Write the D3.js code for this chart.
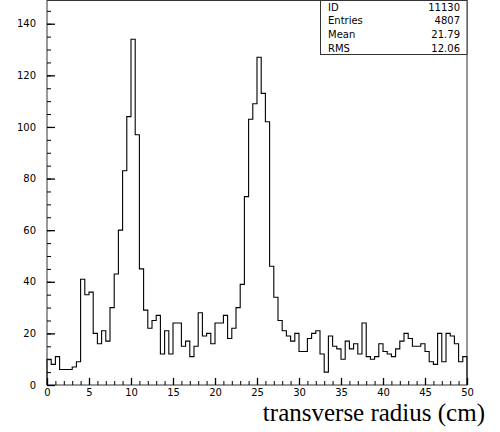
<!DOCTYPE html>
<html>
<head>
<meta charset="utf-8">
<script src="https://cdn.jsdelivr.net/npm/d3@7"></script>
<style>
  body { margin: 0; background: #fff; }
  svg { display: block; }
  .tick text { font-family: "DejaVu Sans", sans-serif; font-size: 10px; fill: #000; }
  .stats text { font-family: "DejaVu Sans", sans-serif; font-size: 10px; fill: #000; }
</style>
</head>
<body>
<div id="chart"></div>
<script>
// histogram: 100 bins of 0.5 cm from 0 to 50
const binStart = 0;
const binWidth = 0.5;
const counts = [
  10, 8, 11, 6, 6, 6, 7, 9, 41, 35,
  36, 20, 16, 21, 17, 30, 43, 60, 83, 104,
  134, 97, 45, 29, 22, 25, 27, 12, 21, 12,
  24, 24, 15, 17, 11, 15, 28, 19, 20, 16,
  24, 24, 27, 18, 22, 30, 39, 73, 103, 109,
  127, 113, 102, 46, 34, 25, 21, 19, 17, 20,
  13, 13, 18, 20, 21, 12, 5, 19, 15, 14,
  10, 17, 14, 16, 12, 24, 11, 10, 11, 16,
  13, 12, 11, 14, 17, 20, 18, 15, 15, 16,
  13, 9, 8, 20, 9, 20, 19, 16, 9, 11
];
const xTicks = [0, 5, 10, 15, 20, 25, 30, 35, 40, 45, 50];
const yTicks = [0, 20, 40, 60, 80, 100, 120, 140];
const statLabels = ["ID", "Entries", "Mean", "RMS"];
const statValues = ["11130", "4807", "21.79", "12.06"];
const xTitle = "transverse radius (cm)";

const width = 500, height = 432;
const mLeft = 47, mRight = 467, mTop = 0.5, mBottom = 385;

const svg = d3.select("#chart").append("svg")
  .attr("width", width)
  .attr("height", height);

const x = d3.scaleLinear().domain([0, 50]).range([mLeft, mRight]);
const y = d3.scaleLinear().domain([0, 149]).range([mBottom, mTop]);

// step outline of the histogram
const pts = [[binStart, 0]];
counts.forEach((c, i) => {
  const x0 = binStart + i * binWidth;
  pts.push([x0, c], [x0 + binWidth, c]);
});
pts.push([binStart + counts.length * binWidth, 0]);

svg.append("path")
  .attr("d", d3.line().x(d => x(d[0])).y(d => y(d[1]))(pts))
  .attr("fill", "none")
  .attr("stroke", "#000")
  .attr("stroke-width", 1.1);

// frame
svg.append("rect")
  .attr("x", mLeft).attr("y", mTop)
  .attr("width", mRight - mLeft).attr("height", mBottom - mTop)
  .attr("fill", "none").attr("stroke", "#333").attr("stroke-width", 1);

// y axis, ticks inside the frame
const yMinor = d3.range(0, 150, 5);
svg.append("g")
  .attr("transform", `translate(${mLeft},0)`)
  .call(d3.axisLeft(y).tickValues(yMinor).tickSize(-4).tickFormat(""))
  .call(g => g.select(".domain").remove());
svg.append("g")
  .attr("transform", `translate(${mLeft},0)`)
  .call(d3.axisLeft(y).tickValues(yTicks).tickSize(-8).tickPadding(11))
  .call(g => g.select(".domain").remove())
  .call(g => g.selectAll("line").attr("stroke-width", 1.3));

// x axis, ticks pointing up
const xMinor = d3.range(0, 51, 1);
svg.append("g")
  .attr("transform", `translate(0,${mBottom})`)
  .call(d3.axisBottom(x).tickValues(xMinor).tickSize(-4).tickFormat(""))
  .call(g => g.select(".domain").remove());
svg.append("g")
  .attr("transform", `translate(0,${mBottom})`)
  .call(d3.axisBottom(x).tickValues(xTicks).tickSize(-7).tickPadding(4))
  .call(g => g.select(".domain").remove())
  .call(g => g.selectAll("line").attr("stroke-width", 1.3));

// stats box
const stats = svg.append("g").attr("class", "stats");
stats.append("rect")
  .attr("x", 320.5).attr("y", mTop)
  .attr("width", mRight - 320.5).attr("height", 54)
  .attr("fill", "#fff").attr("stroke", "#333").attr("stroke-width", 1);
statLabels.forEach((s, i) => {
  const yy = 10.5 + i * 13.8;
  stats.append("text").attr("x", 328).attr("y", yy).text(s);
  stats.append("text").attr("x", 460).attr("y", yy)
    .attr("text-anchor", "end").text(statValues[i]);
});

// axis title
svg.append("text")
  .attr("x", 485).attr("y", 421)
  .attr("text-anchor", "end")
  .attr("font-family", "'Liberation Serif', 'Times New Roman', serif")
  .attr("font-size", 25)
  .text(xTitle);
</script>
</body>
</html>
